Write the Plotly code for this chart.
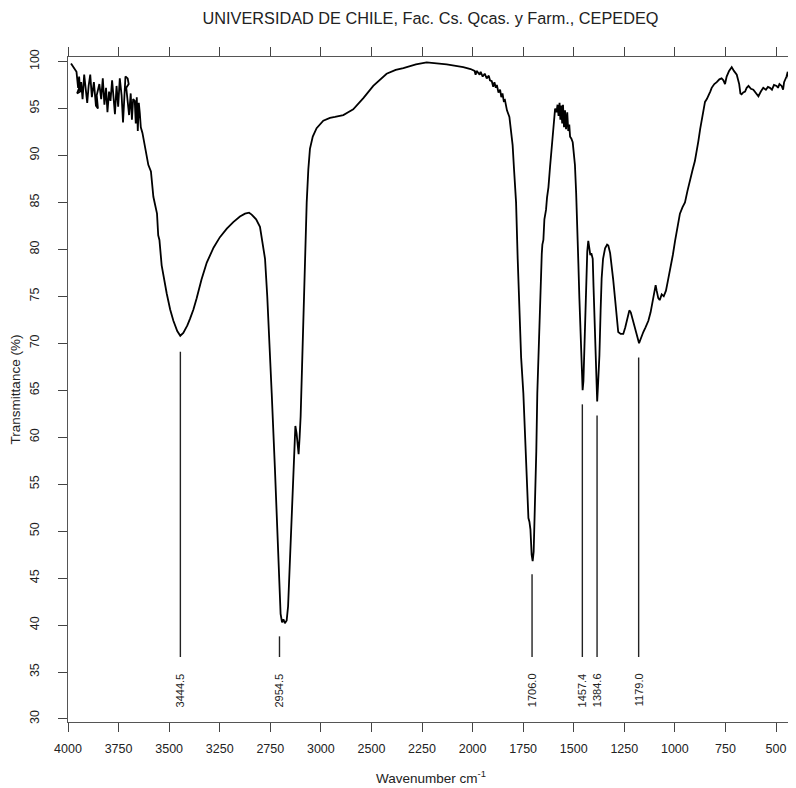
import plotly.graph_objects as go

# ---- data ----
wavenumber = [3985, 3970, 3958, 3950, 3945, 3940, 3955, 3948, 3935, 3928, 3920, 3912, 3905, 3898, 3890,
              3882, 3872, 3862, 3852, 3858, 3845, 3836, 3828, 3820, 3812, 3805, 3797, 3790, 3782, 3775,
              3768, 3760, 3752, 3744, 3735, 3728, 3722, 3716, 3705, 3700, 3712, 3706, 3698, 3690, 3684,
              3678, 3670, 3665, 3660, 3655, 3650, 3645, 3640, 3632,
              3615, 3603, 3590, 3578, 3570, 3560, 3554, 3548, 3537, 3525, 3512, 3495, 3479, 3460, 3445,
              3430, 3410, 3397, 3380, 3364, 3340, 3314, 3280, 3249, 3215, 3183, 3150, 3125, 3105, 3092,
              3070, 3051, 3035, 3026, 3015, 3010, 2993, 2977, 2960, 2949, 2942, 2935, 2928, 2919, 2912,
              2906, 2891, 2880, 2876, 2870, 2864, 2860, 2855, 2850, 2843, 2837, 2828, 2820, 2812, 2804,
              2790, 2771, 2738, 2705, 2680, 2639, 2615, 2590, 2540, 2491, 2425, 2380, 2342, 2280, 2227,
              2175, 2128, 2046, 2010, 1990, 1985, 1980, 1965, 1960, 1950, 1940, 1930, 1920, 1914, 1905,
              1898, 1892, 1885, 1880, 1872, 1864, 1858, 1852, 1846, 1840, 1830, 1818, 1810, 1802, 1795,
              1785, 1777, 1769, 1760, 1749, 1740, 1732, 1724, 1719, 1714, 1708, 1703, 1698, 1691, 1685,
              1680, 1673, 1667, 1662, 1658, 1655, 1650, 1645, 1637, 1632, 1625, 1617, 1609, 1600, 1592,
              1585, 1580, 1575, 1570, 1566, 1562, 1557, 1553, 1548, 1543, 1538, 1532, 1527, 1522, 1518,
              1512, 1505, 1494, 1488, 1482, 1477, 1472, 1464, 1456, 1452, 1448, 1439, 1433, 1428, 1422,
              1418, 1413, 1406, 1402, 1398, 1390, 1384, 1380, 1373, 1367, 1362, 1355, 1345, 1335, 1329,
              1320, 1313, 1305, 1296, 1288, 1280, 1268, 1255, 1245, 1238, 1230, 1225, 1218, 1210, 1205,
              1195, 1185, 1177, 1170, 1164, 1156, 1145, 1131, 1120, 1110, 1102, 1095, 1090, 1082, 1075,
              1065, 1055, 1044, 1035, 1024, 1010, 999, 987, 975, 962, 950, 938, 926, 912, 901,
              892, 884, 875, 867, 858, 851, 842, 834, 825, 818, 805, 793, 780, 769, 760,
              752, 748, 744, 732, 719, 708, 694, 682, 676, 670, 662, 653, 645, 636, 624,
              612, 600, 587, 575, 563, 550, 540, 530, 520, 510, 497, 490, 483, 472, 465,
              460, 455, 448, 442, 439, 435, 430, 427, 424, 418]
transmittance = [99.8, 99.3, 98.9, 97.2, 98.4, 96.8, 96.6, 97.0, 97.8, 96.0, 98.6, 97.0, 95.6, 97.4, 98.6,
                 96.2, 97.8, 95.3, 95.0, 96.4, 97.6, 96.0, 98.2, 95.4, 97.2, 94.6, 96.8, 95.8, 98.0, 96.2,
                 94.4, 97.4, 95.2, 98.2, 96.4, 93.5, 97.0, 98.4, 98.2, 97.6, 97.2, 96.0, 94.3, 96.6, 93.8,
                 96.0, 95.8, 93.4, 96.2, 92.6, 95.6, 94.5, 93.0, 92.4,
                 90.6, 89.0, 88.3, 85.6, 84.8, 83.8, 81.5, 81.0, 78.3, 76.8, 75.3, 73.6, 72.4, 71.3, 70.8,
                 71.1, 71.9, 72.6, 73.6, 74.8, 76.8, 78.6, 80.2, 81.3, 82.2, 82.9, 83.5, 83.8, 83.9, 83.7,
                 83.2, 82.4, 80.5, 79.0, 75.0, 72.8, 64.7, 56.6, 46.4, 41.2, 40.3, 40.6, 40.2, 40.5, 42.0,
                 45.2, 52.5, 60.3, 61.2, 60.4, 58.6, 58.2, 60.0, 62.2, 67.5, 72.8, 80.0, 85.0, 88.5, 90.7,
                 92.0, 92.9, 93.7, 94.0, 94.1, 94.3, 94.6, 94.9, 96.1, 97.4, 98.7, 99.1, 99.3, 99.7, 99.9,
                 99.8, 99.7, 99.4, 99.2, 99.0, 98.6, 99.0, 98.6, 98.9, 98.4, 98.7, 98.2, 98.5, 98.0, 97.9,
                 97.3, 97.8, 97.2, 97.5, 96.7, 97.0, 96.2, 96.6, 95.8, 95.9, 94.8, 94.1, 92.8, 91.1, 88.5,
                 85.0, 79.0, 72.8, 68.5, 64.7, 60.5, 56.6, 51.4, 51.0, 50.2, 47.5, 46.8, 47.8, 52.5, 58.5,
                 64.7, 70.0, 74.8, 77.8, 79.5, 80.5, 81.0, 83.2, 84.2, 85.5, 86.6, 88.8, 91.1, 93.2, 95.0,
                 94.6, 95.4, 94.2, 95.6, 93.8, 95.3, 93.4, 95.4, 93.0, 94.8, 92.8, 94.6, 92.6, 93.3, 92.0,
                 91.8, 91.4, 89.0, 86.0, 82.9, 78.5, 74.8, 68.7, 65.0, 66.0, 69.5, 76.9, 79.8, 80.9, 80.2,
                 79.4, 79.6, 79.0, 76.0, 72.8, 66.7, 63.8, 65.5, 68.7, 73.5, 76.9, 79.0, 80.1, 80.5, 80.4,
                 79.6, 78.5, 76.8, 74.8, 72.8, 71.2, 71.0, 71.0, 71.7, 72.4, 73.3, 73.5, 73.3, 72.6, 72.4,
                 71.6, 70.5, 70.0, 70.4, 70.8, 71.2, 71.7, 72.4, 73.3, 74.4, 75.6, 76.2, 75.6, 74.8, 74.6,
                 75.2, 75.0, 75.6, 76.6, 77.7, 79.4, 80.9, 82.5, 83.8, 84.5, 85.0, 86.2, 87.4, 88.5, 89.4,
                 90.4, 91.5, 92.8, 93.9, 95.0, 95.7, 96.0, 96.3, 96.8, 97.2, 97.6, 97.8, 98.1, 98.2, 98.0,
                 97.6, 98.0, 98.4, 99.0, 99.4, 99.0, 98.6, 97.6, 96.6, 96.5, 96.7, 96.8, 97.2, 97.4, 97.1,
                 97.0, 96.6, 96.3, 96.8, 97.2, 97.0, 97.3, 97.2, 97.0, 97.5, 97.4, 97.2, 97.6, 97.4, 97.0,
                 97.8, 98.0, 98.4, 98.9, 98.6, 97.8, 97.2, 97.0, 98.2, 98.6]

peak_wn = [3444.5, 2954.5, 1706.0, 1457.4, 1384.6, 1179.0]
peak_labels = ["3444.5", "2954.5", "1706.0", "1457.4", "1384.6", "1179.0"]
peak_line_top = [69.1, 38.8, 45.4, 63.5, 62.3, 68.5]
peak_line_bottom = 36.6
peak_label_y = 35.1

x_tick_vals = [4000, 3750, 3500, 3250, 3000, 2750, 2500, 2250, 2000, 1750, 1500, 1250, 1000, 750, 500]
x_tick_text = ["4000", "3750", "3500", "3250", "2750", "3000", "2500", "2250", "2000", "1750",
               "1500", "1250", "1000", "750", "500"]
y_tick_vals = [30, 35, 40, 45, 50, 55, 60, 65, 70, 75, 80, 85, 90, 95, 100]

FONT = "Liberation Sans, Arial, sans-serif"
# the page body adds an 8px offset, so the figure is sized/positioned to compensate
OFF = 8
W, H = 796 - OFF, 788 - OFF
L, R, T, B = 68 - OFF, 3, 57 - OFF, 66

fig = go.Figure()
fig.add_trace(go.Scatter(x=wavenumber, y=transmittance, mode="lines",
                         line=dict(color="black", width=1.8), hoverinfo="skip", showlegend=False))

for wn, top in zip(peak_wn, peak_line_top):
    fig.add_trace(go.Scatter(x=[wn, wn], y=[top, peak_line_bottom], mode="lines",
                             line=dict(color="#222", width=1.4), hoverinfo="skip", showlegend=False))

for wn, lab in zip(peak_wn, peak_labels):
    fig.add_annotation(x=wn, y=peak_label_y, text=lab, textangle=-90, showarrow=False,
                       xanchor="center", yanchor="top", font=dict(family=FONT, size=11, color="#222"))

fig.add_annotation(x=0.5, xref="paper", y=-(777 - OFF - (H - B)) / (H - T - B),
                   yref="paper", text="Wavenumber cm<sup>-1</sup>", showarrow=False,
                   xanchor="center", yanchor="middle", font=dict(family=FONT, size=13.5, color="#222"))

fig.update_layout(
    width=W, height=H,
    margin=dict(l=L, r=R, t=T, b=B),
    paper_bgcolor="white", plot_bgcolor="white",
    title=dict(text="UNIVERSIDAD DE CHILE, Fac. Cs. Qcas. y Farm., CEPEDEQ",
               x=(L + W - R) / 2 / W, xanchor="center", y=1 - (18 - OFF) / H, yanchor="middle",
               font=dict(family=FONT, size=16.3, color="#222")),
    xaxis=dict(range=[4000, 416], tickvals=x_tick_vals, ticktext=x_tick_text, automargin=False,
               ticks="outside", ticklen=9, tickcolor="#444", showline=True, linecolor="#555",
               linewidth=1, mirror="ticks", showgrid=False, zeroline=False, ticklabelstandoff=6,
               tickfont=dict(family=FONT, size=12.5, color="#222")),
    yaxis=dict(range=[29.68, 100.48], tickvals=y_tick_vals, tickangle=-90, automargin=False,
               ticks="outside", ticklen=9, tickcolor="#444", showline=True, linecolor="#555",
               linewidth=1, mirror="ticks", showgrid=False, zeroline=False, ticklabelstandoff=14,
               tickfont=dict(family=FONT, size=12.5, color="#222"),
               title=dict(text="Transmittance (%)", font=dict(family=FONT, size=13.5, color="#222"))),
)

fig.write_html("out.html")
